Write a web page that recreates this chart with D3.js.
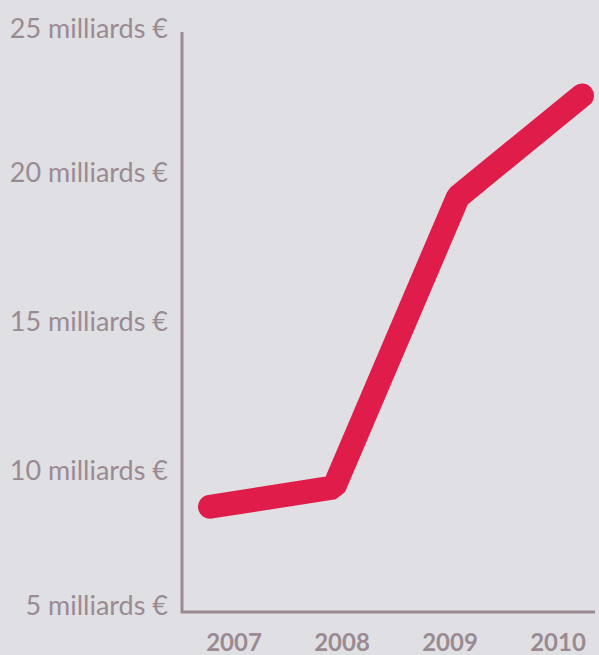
<!DOCTYPE html>
<html>
<head>
<meta charset="utf-8">
<script src="https://cdn.jsdelivr.net/npm/d3@7"></script>
<style>
  html, body { margin: 0; padding: 0; background: #e0dfe3; }
  svg { display: block; }
</style>
</head>
<body>
<div id="chart"></div>
<script>
const years = ['2007', '2008', '2009', '2010'];
const values = [8.8, 9.45, 19.2, 22.6];
const yTicks = [5, 10, 15, 20, 25];
const tickLabel = v => v + ' milliards €';

const width = 599;
const height = 655;
const axisX = 182;
const axisTop = 32;
const axisBottom = 612;
const axisRight = 595;
const textColor = '#9a8b93';
const lineColor = '#e01d4a';

const svg = d3.select('#chart')
  .append('svg')
  .attr('width', width)
  .attr('height', height);

svg.append('rect')
  .attr('width', width)
  .attr('height', height)
  .attr('fill', '#e0dfe3');

const y = d3.scaleLinear().domain([5, 25]).range([620, 24]);
const xPoint = d3.scalePoint().domain(years).range([210, 582]);
const xLabel = d3.scalePoint().domain(years).range([234, 558]);

// axes lines
svg.append('path')
  .attr('d', `M${axisX},${axisTop}V${axisBottom}H${axisRight}`)
  .attr('fill', 'none')
  .attr('stroke', textColor)
  .attr('stroke-width', 3);

// y labels (end ones pulled inside the frame)
svg.append('g')
  .selectAll('text')
  .data(yTicks)
  .join('text')
  .attr('x', 168)
  .attr('y', d => Math.max(29, Math.min(606, y(d))))
  .attr('dy', '0.35em')
  .attr('text-anchor', 'end')
  .attr('font-family', 'Lato, sans-serif')
  .attr('font-size', 27)
  .attr('fill', textColor)
  .text(tickLabel);

// x labels
svg.append('g')
  .selectAll('text')
  .data(years)
  .join('text')
  .attr('x', d => xLabel(d))
  .attr('y', 651)
  .attr('text-anchor', 'middle')
  .attr('font-family', 'Lato, sans-serif')
  .attr('font-weight', 'bold')
  .attr('font-size', 24)
  .attr('fill', textColor)
  .text(d => d);

const line = d3.line()
  .x((d, i) => xPoint(years[i]))
  .y(d => y(d));

svg.append('path')
  .datum(values)
  .attr('d', line)
  .attr('fill', 'none')
  .attr('stroke', lineColor)
  .attr('stroke-width', 24)
  .attr('stroke-linecap', 'round')
  .attr('stroke-linejoin', 'bevel');
</script>
</body>
</html>
